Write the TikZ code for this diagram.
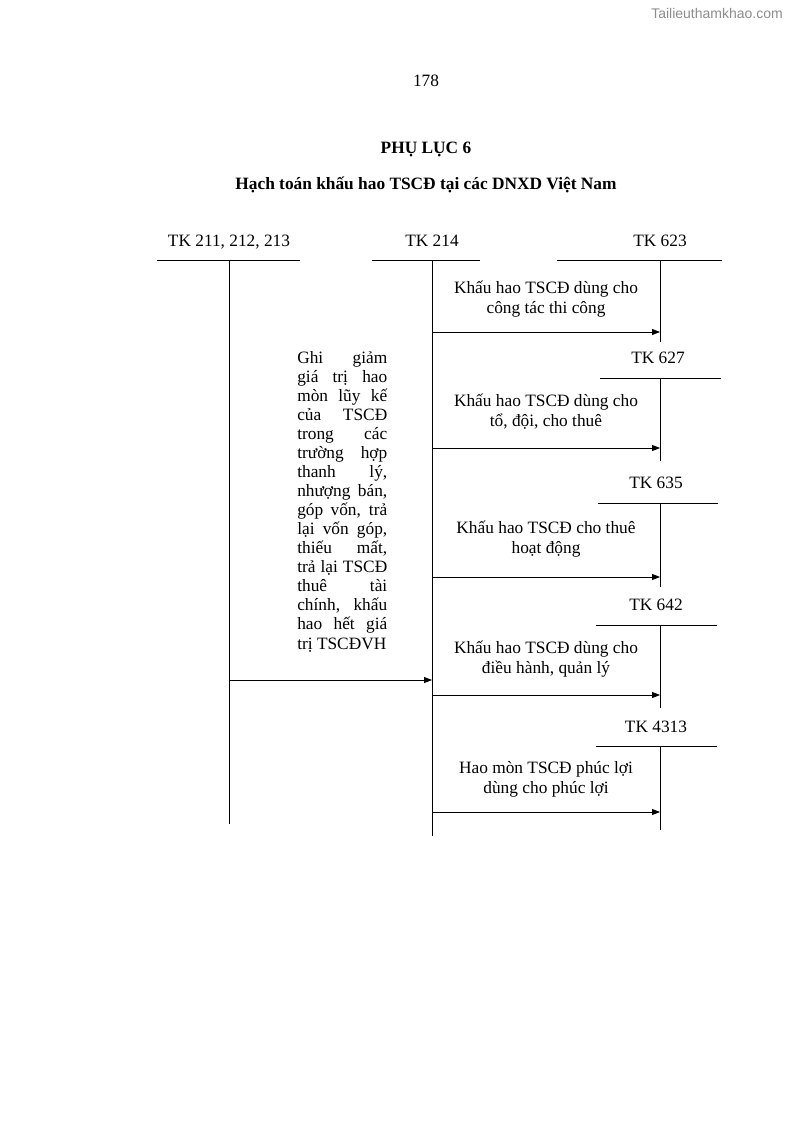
\documentclass[tikz,border=0pt]{standalone}
\usepackage{fontspec}
\setmainfont{Liberation Serif}
\newfontfamily\wmfont{Liberation Sans}
\usetikzlibrary{arrows.meta}
\begin{document}
\begin{tikzpicture}[x=0.75pt,y=-0.75pt,
  ln/.style={line width=0.6pt},
  arr/.style={line width=0.6pt,-{Triangle[length=6pt,width=4.5pt]}},
  lbl/.style={anchor=base,inner sep=0pt,font=\fontsize{13}{15}\selectfont},
  desc/.style={anchor=base,inner sep=0pt,align=center,font=\fontsize{13}{15}\selectfont}]
\useasboundingbox (0,0) rectangle (794,1123);
% watermark and headings
\node[anchor=base,inner sep=0pt,text=black!45,font=\wmfont\fontsize{10.5}{12}\selectfont] (wm) at (717,19) {Tailieuthamkhao.com};
\node[lbl] (pg) at (426,87) {178};
\node[lbl,font=\bfseries\fontsize{13}{15}\selectfont] (t1) at (426,154) {PHỤ LỤC 6};
\node[lbl,font=\bfseries\fontsize{13}{15}\selectfont] (t2) at (426,190) {Hạch toán khấu hao TSCĐ tại các DNXD Việt Nam};
% account labels
\node[lbl] (a211) at (229,246) {TK 211, 212, 213};
\node[lbl] (a214) at (432,246) {TK 214};
\node[lbl] (a623) at (660,246) {TK 623};
\node[lbl] (a627) at (658,363) {TK 627};
\node[lbl] (a635) at (656,488) {TK 635};
\node[lbl] (a642) at (656,610) {TK 642};
\node[lbl] (a4313) at (656,732) {TK 4313};
% T-accounts
\coordinate (l211) at (157,260); \coordinate (r211) at (300,260);
\coordinate (t211) at (229,260); \coordinate (b211) at (229,824);
\coordinate (l214) at (372,260); \coordinate (r214) at (480,260);
\coordinate (t214) at (432,260); \coordinate (b214) at (432,836);
\coordinate (l623) at (557,260); \coordinate (r623) at (722,260);
\coordinate (t623) at (660,260); \coordinate (b623) at (660,342);
\coordinate (l627) at (600,378); \coordinate (r627) at (721,378);
\coordinate (t627) at (660,378); \coordinate (b627) at (660,461);
\coordinate (l635) at (598,503); \coordinate (r635) at (718,503);
\coordinate (t635) at (660,503); \coordinate (b635) at (660,587);
\coordinate (l642) at (596,625); \coordinate (r642) at (717,625);
\coordinate (t642) at (660,625); \coordinate (b642) at (660,708);
\coordinate (l4313) at (596,746); \coordinate (r4313) at (717,746);
\coordinate (t4313) at (660,746); \coordinate (b4313) at (660,830);
\foreach \a in {211,214,623,627,635,642,4313}{
  \draw[ln] (l\a) -- (r\a);
  \draw[ln] (t\a) -- (b\a);
}
% arrows
\coordinate (s1) at (432,332); \coordinate (e1) at (660,332);
\coordinate (s2) at (432,448); \coordinate (e2) at (660,448);
\coordinate (s3) at (432,577); \coordinate (e3) at (660,577);
\coordinate (s4) at (432,695); \coordinate (e4) at (660,695);
\coordinate (s5) at (432,812); \coordinate (e5) at (660,812);
\coordinate (s0) at (229,680); \coordinate (e0) at (432,680);
\foreach \i in {0,1,2,3,4,5}{\draw[arr] (s\i) -- (e\i);}
% descriptions (base = last line baseline)
\node[desc] (d1) at (546,313) {Khấu hao TSCĐ dùng cho\\công tác thi công};
\node[desc] (d2) at (546,426) {Khấu hao TSCĐ dùng cho\\tổ, đội, cho thuê};
\node[desc] (d3) at (546,553) {Khấu hao TSCĐ cho thuê\\hoạt động};
\node[desc] (d4) at (546,673) {Khấu hao TSCĐ dùng cho\\điều hành, quản lý};
\node[desc] (d5) at (546,793) {Hao mòn TSCĐ phúc lợi\\dùng cho phúc lợi};
\node[anchor=base west,inner sep=0pt,align=left,font=\fontsize{13}{14.3}\selectfont] (d0) at (297,649)
 {\makebox[67.5pt][s]{Ghi giảm}\\
  \makebox[67.5pt][s]{giá trị hao}\\
  \makebox[67.5pt][s]{mòn lũy kế}\\
  \makebox[67.5pt][s]{của TSCĐ}\\
  \makebox[67.5pt][s]{trong các}\\
  \makebox[67.5pt][s]{trường hợp}\\
  \makebox[67.5pt][s]{thanh lý,}\\
  \makebox[67.5pt][s]{nhượng bán,}\\
  \makebox[67.5pt][s]{góp vốn, trả}\\
  \makebox[67.5pt][s]{lại vốn góp,}\\
  \makebox[67.5pt][s]{thiếu mất,}\\
  \makebox[67.5pt][s]{trả lại TSCĐ}\\
  \makebox[67.5pt][s]{thuê tài}\\
  \makebox[67.5pt][s]{chính, khấu}\\
  \makebox[67.5pt][s]{hao hết giá}\\
  trị TSCĐVH};
\end{tikzpicture}
\end{document}
